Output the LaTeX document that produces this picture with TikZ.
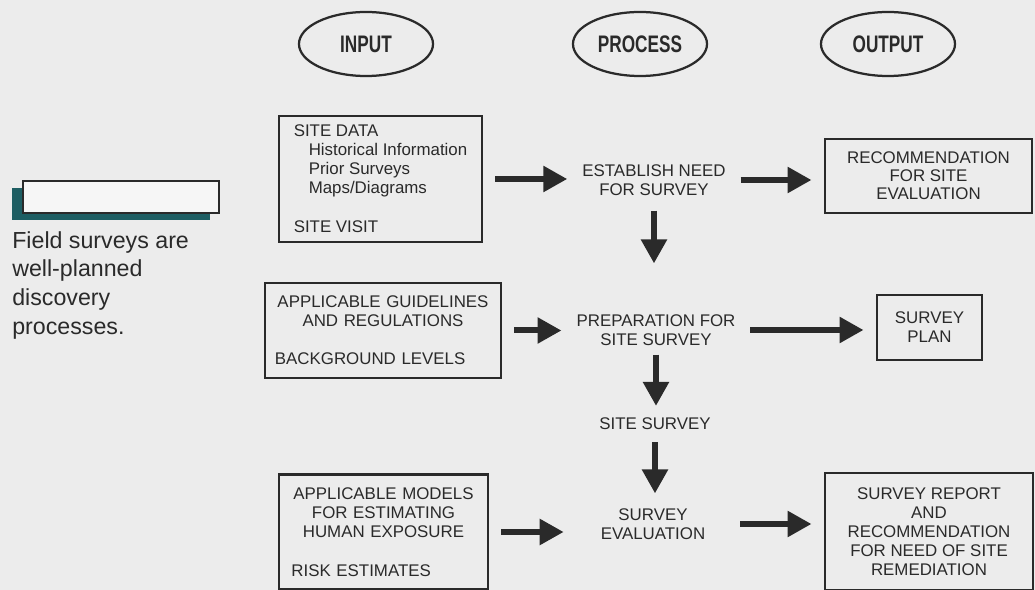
\documentclass[tikz,border=0pt]{standalone}
\usepackage{fontspec}
\setmainfont{Liberation Sans}
\usepackage{graphicx}
\usetikzlibrary{arrows.meta,shapes.geometric}
\definecolor{paper}{HTML}{ECECEC}
\definecolor{ink}{HTML}{2A2A2A}
\definecolor{tealbar}{HTML}{1E5E63}
\newcommand{\narrowcaps}[1]{\scalebox{0.72}[1]{#1}}
\tikzset{
  head/.style={draw=ink,line width=1.6pt,ellipse,minimum width=3.35cm,minimum height=1.6cm,
    text=ink,font=\fontsize{17}{19}\selectfont\bfseries},
  box/.style={draw=ink,line width=2pt,rectangle,inner sep=0pt,text=ink,
    font=\fontsize{12}{13.5}\selectfont},
  stage/.style={inner sep=2pt,align=center,text=ink,font=\fontsize{12}{13.5}\selectfont},
  note/.style={anchor=north west,inner sep=0pt,align=left,text=ink,
    font=\fontsize{16.5}{20.5}\selectfont},
  flow/.style={draw=ink,line width=0.15cm,-{Triangle[length=0.6cm,width=0.62cm]},
    shorten <=0.3cm,shorten >=0.3cm}
}
\begin{document}
\begin{tikzpicture}[x=0.025cm,y=-0.025cm]
\fill[paper] (0,0) rectangle (1035,590);
\useasboundingbox (0,0) rectangle (1035,590);

\node[head] (input) at (366,44) {\narrowcaps{INPUT}};
\node[head] (process) at (640,44) {\narrowcaps{PROCESS}};
\node[head] (output) at (888,44) {\narrowcaps{OUTPUT}};

\fill[tealbar] (12,188) rectangle (210,220);
\filldraw[fill=white!55!paper,draw=ink,line width=0.8pt] (23,181) rectangle (219,213);
\node[note] (remark) at (12,231) {Field surveys are\\well-planned\\discovery\\processes.};

\node[box,minimum width=5.075cm,minimum height=3.15cm,align=left] (sitedata) at (380.5,179)
  {SITE DATA\\
   \hspace*{0.375cm}Historical Information\\
   \hspace*{0.375cm}Prior Surveys\\
   \hspace*{0.375cm}Maps/Diagrams\\[14pt]
   SITE VISIT};
\node[box,minimum width=5.9cm,minimum height=2.375cm,text width=5.4cm,align=center] (guide) at (383,330.5)
  {APPLICABLE GUIDELINES\\AND REGULATIONS\\[13.5pt]\makebox[\hsize][l]{BACKGROUND LEVELS}};
\node[box,minimum width=5.225cm,minimum height=2.875cm,text width=4.6cm,align=center] (models) at (383.5,532)
  {APPLICABLE MODELS\\FOR ESTIMATING\\HUMAN EXPOSURE\\[14pt]\makebox[\hsize][l]{RISK ESTIMATES}};

\node[stage] (need) at (654,180) {ESTABLISH NEED\\FOR SURVEY};
\node[stage] (prep) at (656,330) {PREPARATION FOR\\SITE SURVEY};
\node[stage] (survey) at (655,424) {SITE SURVEY};
\node[stage] (evaluation) at (653,524) {SURVEY\\EVALUATION};

\node[box,minimum width=5.175cm,minimum height=1.85cm,align=center,
  font=\fontsize{12}{12.8}\selectfont] (recsite) at (928.5,176) {RECOMMENDATION\\FOR SITE\\EVALUATION};
\node[box,minimum width=2.625cm,minimum height=1.625cm,align=center] (plan) at (929.5,327.5) {SURVEY\\PLAN};
\node[box,minimum width=5.2cm,minimum height=2.925cm,align=center] (report) at (929,531.5)
  {SURVEY REPORT\\AND\\RECOMMENDATION\\FOR NEED OF SITE\\REMEDIATION};

\draw[flow] (sitedata.east) -- (sitedata.east -| need.west);
\draw[flow] (need.east) -- (need.east -| recsite.west);
\draw[flow,shorten >=1.2cm] (need.south) -- (need.south |- prep.north);
\draw[flow] (guide.east) -- (guide.east -| prep.west);
\draw[flow] (prep.east) -- (prep.east -| plan.west);
\draw[flow,shorten <=0.15cm,shorten >=0.225cm] (prep.south) -- (prep.south |- survey.north);
\draw[flow,shorten <=0.225cm] (survey.south) -- (survey.south |- evaluation.north);
\draw[flow,shorten >=0.85cm] (models.east) -- (models.east -| evaluation.west);
\draw[flow,shorten <=0.8cm] (evaluation.east) -- (evaluation.east -| report.west);
\end{tikzpicture}
\end{document}
